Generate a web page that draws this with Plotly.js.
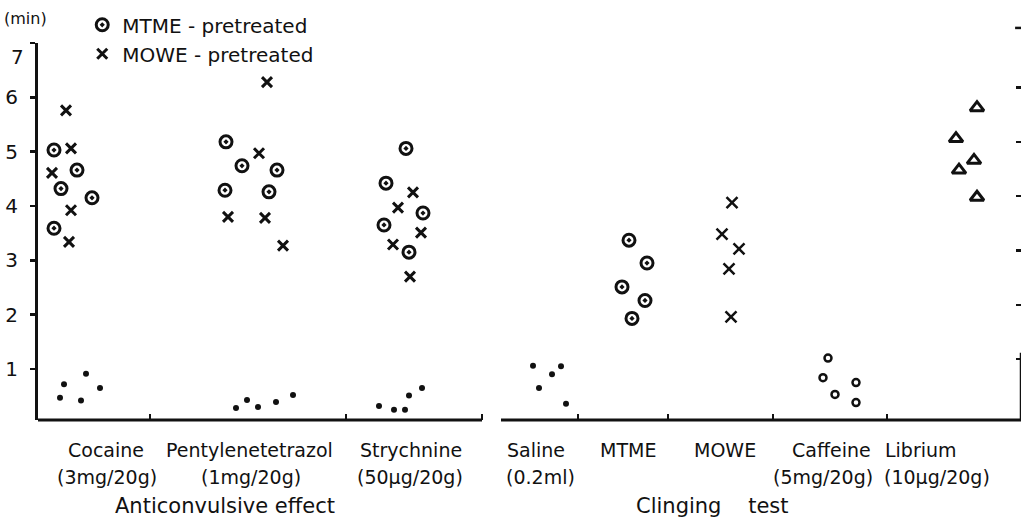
<!DOCTYPE html>
<html>
<head>
<meta charset="utf-8">
<script src="https://cdn.plot.ly/plotly-3.0.1.min.js"></script>
<style>html,body{margin:0;padding:0;background:#fff;}#chart{width:1023px;height:530px;}</style>
</head>
<body>
<div id="chart"></div>
<script>
// ---- category labels ----
const antiCategories = ['Cocaine', 'Pentylenetetrazol', 'Strychnine'];
const antiDoses = ['(3mg/20g)', '(1mg/20g)', '(50\u03bcg/20g)'];
const clingCategories = ['Saline', 'MTME', 'MOWE', 'Caffeine', 'Librium'];
const clingDoses = ['(0.2ml)', '', '', '(5mg/20g)', '(10\u03bcg/20g)'];
const groupTitles = ['Anticonvulsive effect', 'Clinging\u00a0\u00a0\u00a0\u00a0test'];
const yTicks = [1, 2, 3, 4, 5, 6, 7];

// ---- anticonvulsive effect (min) : Cocaine | Pentylenetetrazol | Strychnine ----
// MTME - pretreated
const mtmeAntiX = [0.16, 0.39, 0.23, 0.54, 0.16,   1.88, 2.04, 2.39, 1.87, 2.31,   3.68, 3.48, 3.85, 3.46, 3.71];
const mtmeAntiY = [5.03, 4.66, 4.32, 4.15, 3.59,   5.18, 4.74, 4.66, 4.29, 4.26,   5.06, 4.42, 3.87, 3.65, 3.15];
// MOWE - pretreated
const moweAntiX = [0.28, 0.33, 0.14, 0.33, 0.31,   2.29, 2.21, 1.90, 2.27, 2.45,   3.75, 3.60, 3.83, 3.55, 3.72];
const moweAntiY = [5.76, 5.06, 4.61, 3.92, 3.34,   6.28, 4.97, 3.80, 3.78, 3.27,   4.25, 3.97, 3.51, 3.29, 2.70];
// controls (no pretreatment)
const ctrlAntiX = [0.22, 0.26, 0.43, 0.48, 0.62,   1.98, 2.09, 2.20, 2.38, 2.55,   3.41, 3.56, 3.67, 3.71, 3.84];
const ctrlAntiY = [0.47, 0.72, 0.42, 0.91, 0.65,   0.28, 0.43, 0.30, 0.39, 0.52,   0.32, 0.25, 0.25, 0.51, 0.65];

// ---- clinging test (min) ----
const salineX = [4.95, 5.23, 5.14, 5.01, 5.28];
const salineY = [1.06, 1.05, 0.90, 0.65, 0.36];
const mtmeClingX = [5.91, 6.09, 5.84, 6.07, 5.94];
const mtmeClingY = [3.37, 2.95, 2.51, 2.26, 1.93];
const moweClingX = [6.94, 6.84, 7.01, 6.91, 6.93];
const moweClingY = [4.06, 3.48, 3.21, 2.84, 1.96];
const caffeineX = [7.90, 7.85, 8.18, 7.97, 8.18];
const caffeineY = [1.20, 0.84, 0.75, 0.53, 0.38];
const libriumX = [9.39, 9.18, 9.36, 9.21, 9.39];
const libriumY = [5.81, 5.24, 4.84, 4.66, 4.16];

// ---- layout helpers (positions along the category axis) ----
const antiPos = [0.68, 2.11, 3.73];
const antiDosePos = [0.69, 2.13, 3.72];
const clingPos = [4.98, 5.90, 6.87, 7.93, 8.83];
const clingDosePos = [5.02, 5.90, 6.87, 7.85, 8.99];
const titlePos = [1.87, 6.74];
const axisTicks = [1.12, 3.08, 4.44, 5.40, 6.30, 7.35, 8.49];

const FONT = 'DejaVu Sans, Liberation Sans, sans-serif';
const K = '#111';

const traces = [
  {x: mtmeAntiX, y: mtmeAntiY, mode: 'markers', type: 'scatter', name: 'MTME - pretreated',
   marker: {symbol: 'circle-open-dot', size: 12, color: K, line: {width: 3, color: K}}},
  {x: moweAntiX, y: moweAntiY, mode: 'markers', type: 'scatter', name: 'MOWE - pretreated',
   marker: {symbol: 'x-thin-open', size: 10, color: K, line: {width: 3, color: K}}},
  {x: ctrlAntiX, y: ctrlAntiY, mode: 'markers', type: 'scatter', showlegend: false,
   marker: {symbol: 'circle', size: 6, color: K}},
  {x: salineX, y: salineY, mode: 'markers', type: 'scatter', showlegend: false,
   marker: {symbol: 'circle', size: 6, color: K}},
  {x: mtmeClingX, y: mtmeClingY, mode: 'markers', type: 'scatter', showlegend: false,
   marker: {symbol: 'circle-open-dot', size: 12, color: K, line: {width: 3, color: K}}},
  {x: moweClingX, y: moweClingY, mode: 'markers', type: 'scatter', showlegend: false,
   marker: {symbol: 'x-thin-open', size: 11, color: K, line: {width: 2.5, color: K}}},
  {x: caffeineX, y: caffeineY, mode: 'markers', type: 'scatter', showlegend: false,
   marker: {symbol: 'circle-open', size: 7, color: K, line: {width: 2.5, color: K}}},
  {x: libriumX, y: libriumY, mode: 'markers', type: 'scatter', showlegend: false,
   marker: {symbol: 'triangle-up-open', size: 12, color: K, line: {width: 3, color: K}}},
  // invisible trace to carry the right-hand tick marks
  {x: [9.8], y: [1], yaxis: 'y2', mode: 'markers', type: 'scatter', showlegend: false,
   marker: {size: 1, opacity: 0}, hoverinfo: 'skip'}
];

// plot area: left 38px, top 43px, bottom 420px (height 377px), width 983px
const annotations = [];
const lineY1 = -0.080, lineY2 = -0.151, titleY = -0.228;
const txt = (x, y, t, s) => ({x: x, y: y, xref: 'x', yref: 'paper', xanchor: 'center', yanchor: 'middle',
  text: t, showarrow: false, font: {family: FONT, size: s, color: K}});
antiCategories.forEach((c, i) => {
  annotations.push(txt(antiPos[i], lineY1, c, 19));
  annotations.push(txt(antiDosePos[i], lineY2, antiDoses[i], 19));
});
clingCategories.forEach((c, i) => {
  annotations.push(txt(clingPos[i], lineY1, c, 19));
  if (clingDoses[i]) annotations.push(txt(clingDosePos[i], lineY2, clingDoses[i], 19));
});
groupTitles.forEach((t, i) => annotations.push(txt(titlePos[i], titleY, t, 21)));
annotations.push({x: -0.0125, y: 1.066, xref: 'paper', yref: 'paper', xanchor: 'center', yanchor: 'middle',
  text: '(min)', showarrow: false, font: {family: FONT, size: 16, color: K}});
annotations.push({x: -0.0125, y: 0.962, xref: 'paper', yref: 'paper', text: '7', showarrow: false,
  xanchor: 'right', yanchor: 'middle', font: {family: FONT, size: 20, color: K}});

const layout = {
  width: 1023, height: 530,
  margin: {l: 38, r: 2, t: 43, b: 110},
  paper_bgcolor: '#fff', plot_bgcolor: '#fff',
  font: {family: FONT, color: K},
  showlegend: true,
  legend: {x: 0.045, y: 1.1, xanchor: 'left', yanchor: 'top', bgcolor: 'rgba(0,0,0,0)',
    font: {family: FONT, size: 20, color: K}, tracegroupgap: 0, itemwidth: 30},
  xaxis: {range: [0, 9.83], showline: false, showgrid: false, zeroline: false,
    tickvals: axisTicks, ticks: 'inside', ticklen: 6, tickwidth: 2.5, tickcolor: K,
    showticklabels: false, fixedrange: true},
  yaxis: {range: [0.06, 7.0], showline: true, linewidth: 3, linecolor: K, showgrid: false, zeroline: false,
    tickvals: yTicks, ticktext: yTicks.map(v => v === 7 ? '' : String(v)),
    ticks: 'outside', ticklen: 5, tickwidth: 2.5, tickcolor: K, ticklabelstandoff: 8,
    tickfont: {family: FONT, size: 20, color: K}, fixedrange: true},
  yaxis2: {overlaying: 'y', side: 'right', range: [-0.12, 6.82], showline: false, showgrid: false,
    zeroline: false, tickvals: yTicks, ticks: 'inside', ticklen: 5, tickwidth: 2.5, tickcolor: K,
    showticklabels: false, fixedrange: true},
  shapes: [
    {type: 'line', xref: 'x', yref: 'paper', x0: 0, x1: 4.44, y0: 0, y1: 0, line: {color: K, width: 3}},
    {type: 'line', xref: 'x', yref: 'paper', x0: 4.63, x1: 9.83, y0: 0, y1: 0, line: {color: K, width: 3}},
    {type: 'line', xref: 'x', yref: 'y', x0: 9.83, x1: 9.83, y0: 0.06, y1: 1.3, line: {color: K, width: 2.5}},
    {type: 'line', xref: 'paper', yref: 'paper', x0: 0.994, x1: 1.0, y0: 1.04, y1: 1.04, line: {color: K, width: 2.5}}
  ],
  annotations: annotations
};

Plotly.newPlot('chart', traces, layout, {displayModeBar: false, staticPlot: true});
</script>
</body>
</html>
